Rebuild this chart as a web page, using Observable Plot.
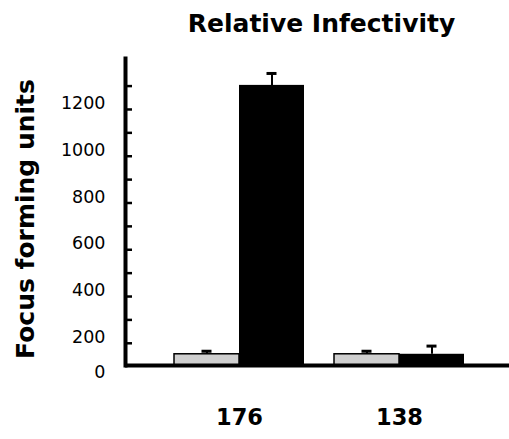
<!DOCTYPE html>
<html>
<head>
<meta charset="utf-8">
<script src="https://cdn.jsdelivr.net/npm/d3@7"></script>
<script src="https://cdn.jsdelivr.net/npm/@observablehq/plot@0.6"></script>
<style>
  html, body { margin: 0; padding: 0; background: #fff; }
</style>
</head>
<body>
<div id="chart"></div>
<script>
// ---- data ----
const groups = ["176", "138"];
const grayValues = [153, 153];
const grayErrTop = [166, 166];
const blackValues = [1303, 153];
const blackErrTop = [1354, 188];
const majorTicks = [200, 400, 600, 800, 1000, 1200];
const allTicks = [200, 300, 400, 500, 600, 700, 800, 900, 1000, 1100, 1200, 1300];
const baseValue = 105;
const topValue = 1418;
const zeroLabel = ["0"];
const titleText = ["Relative Infectivity"];
const yLabelText = ["Focus forming units"];

const grayData = groups.map((g, i) => ({group: g, value: grayValues[i], hi: grayErrTop[i]}));
const blackData = groups.map((g, i) => ({group: g, value: blackValues[i], hi: blackErrTop[i]}));

const FONT = "DejaVu Sans";

const plot = Plot.plot({
  width: 509,
  height: 439,
  marginTop: 58,
  marginBottom: 74,
  marginLeft: 125,
  marginRight: 0,
  style: {fontFamily: FONT, background: "#fff", color: "#000"},
  x: {domain: groups, paddingInner: 0.19, paddingOuter: 0.29, align: 0.52},
  y: {domain: [baseValue, topValue]},
  marks: [
    // bars
    Plot.barY(grayData, {x: "group", y1: baseValue, y2: "value", insetRight: 65, fill: "#cfcfcf", stroke: "#000", strokeWidth: 1.5}),
    Plot.barY(blackData, {x: "group", y1: baseValue, y2: "value", insetLeft: 65, fill: "#000"}),
    // error bars
    Plot.ruleX(grayData, {x: "group", y1: "value", y2: "hi", dx: -32.5, stroke: "#000", strokeWidth: 2}),
    Plot.ruleX(blackData, {x: "group", y1: "value", y2: "hi", dx: 32.5, stroke: "#000", strokeWidth: 2}),
    Plot.tickY(grayData, {x: "group", y: "hi", insetLeft: 27.5, insetRight: 92.5, stroke: "#000", strokeWidth: 3}),
    Plot.tickY(blackData, {x: "group", y: "hi", insetLeft: 92.5, insetRight: 27.5, stroke: "#000", strokeWidth: 3}),
    // axes lines
    Plot.ruleY([baseValue], {stroke: "#000", strokeWidth: 4}),
    Plot.frame({anchor: "left", stroke: "#000", strokeWidth: 4}),
    // y ticks (inward)
    Plot.axisY(allTicks, {tickSize: -7, tickFormat: () => "", label: null, strokeWidth: 2.5}),
    // y tick labels
    Plot.axisY(majorTicks, {tickSize: 0, tickPadding: 20, label: null, fontSize: 17.5, dy: -6, tickFormat: d => String(d)}),
    Plot.text(zeroLabel, {y: () => baseValue, text: d => d, frameAnchor: "left", textAnchor: "end", dx: -20, dy: 7, fontSize: 17.5}),
    // x labels
    Plot.axisX({tickSize: 0, tickPadding: 44, label: null, fontSize: 22.5, fontWeight: "bold"}),
    // title
    Plot.text(titleText, {text: d => d, frameAnchor: "top", dx: 4, dy: -44, fontSize: 25, fontWeight: "bold"}),
    // y label
    Plot.text(yLabelText, {text: d => d, frameAnchor: "left", textAnchor: "middle", rotate: -90, dx: -100, dy: 7, fontSize: 25, fontWeight: "bold"})
  ]
});
document.getElementById("chart").appendChild(plot);
</script>
</body>
</html>
